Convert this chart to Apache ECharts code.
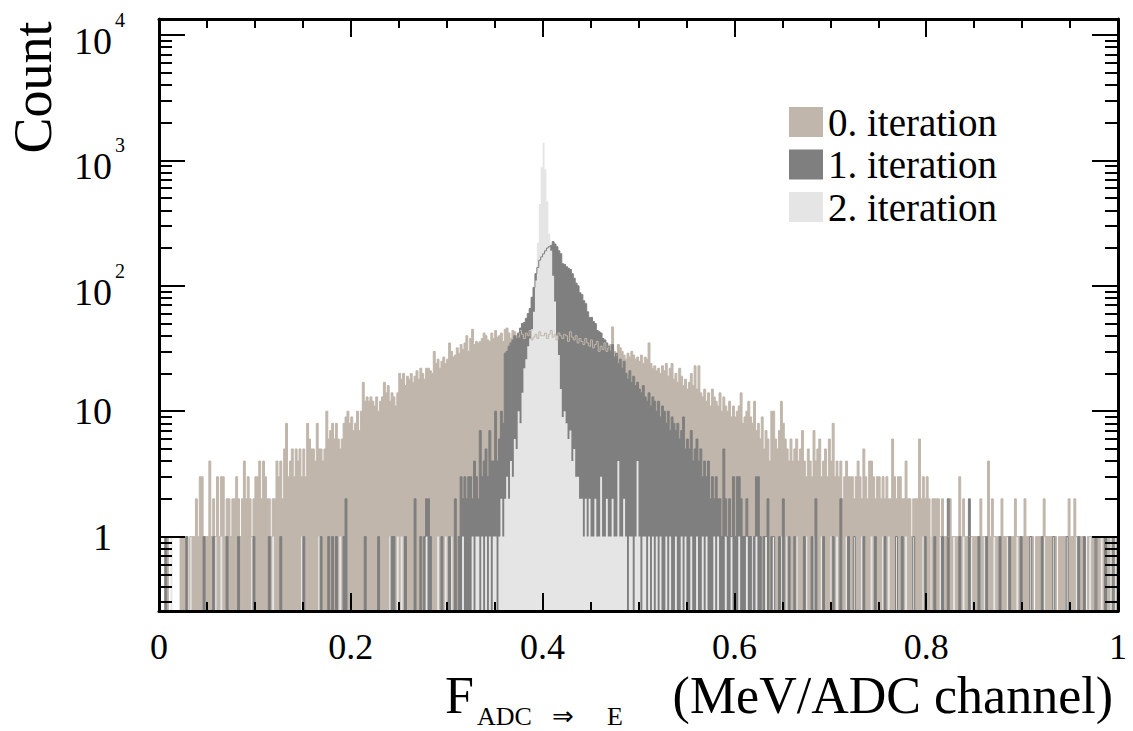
<!DOCTYPE html>
<html>
<head>
<meta charset="utf-8">
<script src="https://cdn.jsdelivr.net/npm/echarts@6/dist/echarts.min.js"></script>
<style>
html,body{margin:0;padding:0;background:#fff;}
#chart{width:1133px;height:731px;}
</style>
</head>
<body>
<div id="chart"></div>
<script>
// ---------------- data ----------------
const seriesNames = ['0. iteration', '1. iteration', '2. iteration'];
const histRange = [0, 1];           // histogram x range (500 equal bins)

const counts0 = [
0,0,0,0,1,0,0,0,0,0, 0,1,1,1,1,0,1,1,1,2, 1,3,3,1,1,1,4,1,2,1, 3,1,3,3,1,2,2,1,2,2,
3,2,1,2,4,2,3,2,1,2, 3,3,4,2,4,3,2,2,1,2, 2,4,3,4,2,5,8,3,4,5, 3,5,4,5,3,5,3,8,6,5,
5,4,8,5,5,4,5,10,6,7, 8,6,8,6,5,6,8,9,10,8, 9,7,8,10,7,10,17,12,13,12, 13,12,11,13,10,12,13,17,14,16,
12,14,13,11,14,20,18,20,16,19, 18,20,17,19,21,18,22,20,18,22, 22,21,20,30,24,26,22,25,27,24, 26,35,30,27,28,32,29,34,31,35,
40,30,38,45,34,36,35,36,38,42, 40,37,36,42,38,44,39,40,42,36, 45,46,42,38,44,43,40,39,44,41, 38,42,40,44,37,39,41,38,43,40,
40,42,38,41,44,39,41,37,42,40, 38,41,40,36,43,39,37,40,35,38, 36,34,38,35,33,37,32,34,36,30, 33,31,35,30,32,34,47,30,28,34,
32,30,28,26,29,27,30,28,26,27, 25,28,24,27,26,35,24,22,23,21, 22,20,23,21,24,19,22,24,18,20, 17,22,19,16,18,15,17,20,16,23,
15,23,14,13,15,12,14,11,15,13, 12,11,14,10,13,11,10,12,9,11, 9,10,11,14,8,9,10,12,9,8, 12,7,8,6,9,5,7,6,4,10,
10,6,5,7,12,8,6,5,4,6, 4,5,6,4,5,7,4,3,5,4, 3,7,4,5,6,3,4,5,3,6, 4,8,3,4,3,4,2,3,4,3,
3,3,2,3,4,3,2,5,3,2, 4,4,3,2,3,3,2,3,2,3, 2,2,6,3,2,3,3,2,2,4, 2,2,1,2,2,2,6,2,3,2,
3,2,0,2,2,2,2,1,2,1, 1,1,2,1,1,1,1,3,1,2, 1,1,1,1,1,1,1,1,2,1, 1,1,4,1,2,1,1,1,1,2,
1,1,1,1,1,1,2,1,1,1, 1,2,1,1,1,1,0,1,1,1, 1,2,1,1,1,1,1,1,0,1, 1,1,1,1,2,1,1,2,1,1,
1,1,0,0,1,1,1,1,0,1, 1,1,1,0,1,1,1,1,0,1
];

const counts1 = [
0,0,0,1,0,0,0,0,0,0, 0,0,0,0,1,0,0,0,0,0, 0,0,0,1,0,0,0,0,1,0, 0,0,0,0,0,1,0,0,0,0,
0,1,0,0,0,0,0,0,0,1, 0,0,0,0,0,0,0,1,0,0, 0,0,0,1,0,0,0,0,0,0, 0,0,0,0,0,1,0,0,0,0,
0,0,0,0,1,0,0,0,1,0, 1,0,1,0,0,0,1,2,0,0, 0,0,0,0,0,0,0,1,0,0, 0,0,0,0,1,0,0,0,0,0,
0,1,1,0,0,0,0,0,1,0, 0,0,0,2,0,0,1,0,1,2, 2,1,0,0,0,0,0,1,0,0, 0,1,0,0,2,0,1,3,2,3,
2,3,3,2,4,3,2,7,3,4, 5,3,7,4,4,10,4,6,10,8, 29,30,33,35,37,40,38,42,46,50, 51,55,60,66,81,97,125,140,160,170,
180,190,200,205,210,225,215,205,190,180, 150,148,142,138,135,125,115,105,100,88, 85,76,72,62,56,56,52,50,44,43, 42,38,37,35,33,30,34,27,29,24,
26,22,25,20,18,21,17,19,16,17, 15,14,16,13,12,14,11,13,12,10, 12,9,11,10,8,10,7,9,8,7, 8,6,7,9,5,6,5,7,4,5,
6,4,5,3,4,3,4,2,3,2, 3,2,2,1,5,2,1,2,1,3, 1,3,3,2,1,1,2,1,1,0, 1,3,3,1,0,1,1,2,0,1,
1,0,0,1,0,2,0,0,1,0, 0,1,0,0,0,0,1,0,0,0, 1,0,2,0,0,0,1,0,0,0, 0,1,0,0,0,2,0,0,0,1,
0,0,1,0,0,0,0,1,0,0, 0,0,0,1,0,0,0,0,1,0, 0,0,0,0,1,0,0,1,0,0, 0,0,0,1,0,0,0,0,0,1,
0,0,0,0,1,0,0,0,1,0, 0,2,0,0,0,0,0,1,0,0, 0,0,2,0,0,0,0,1,0,0, 0,1,0,0,0,0,0,0,1,0,
0,0,0,1,0,0,0,0,0,1, 0,0,0,0,1,0,0,0,0,0, 1,0,0,0,0,0,1,0,0,0, 0,0,0,1,0,0,0,0,0,1,
0,0,1,0,0,0,0,0,1,0, 0,0,0,1,0,0,0,1,0,0
];

const counts2 = [
0,0,0,0,0,0,1,0,0,0, 0,0,0,0,0,0,1,0,0,0, 0,0,0,0,0,0,0,0,0,1, 0,0,1,0,0,0,0,0,0,0,
0,0,0,0,0,0,0,0,1,0, 0,0,0,0,0,0,0,0,0,1, 0,0,0,0,0,0,0,0,0,0, 0,0,0,0,1,0,0,0,0,0,
0,0,0,1,0,0,0,0,0,0, 0,0,0,0,1,0,0,0,0,0, 0,0,0,0,0,0,0,0,0,0, 0,0,0,0,0,0,0,0,0,0,
1,0,0,0,1,0,1,0,0,0, 0,0,0,0,0,0,0,0,0,1, 0,0,0,0,0,1,0,0,0,1, 0,0,1,0,0,0,0,0,1,0,
0,0,0,1,0,1,1,0,1,0, 1,0,1,0,1,1,0,1,2,1, 2,3,2,4,3,6,5,10,8,14, 22,26,33,38,45,62,110,220,450,880,
1380,850,470,260,190,120,75,40,28,15, 9,10,8,6,7,4,5,3,3,2, 2,1,2,1,2,1,1,2,1,1, 3,1,1,2,1,1,2,1,1,4,
1,1,2,1,0,1,1,0,1,4, 1,0,1,1,0,1,0,1,0,1, 0,1,0,0,1,0,1,0,0,1, 0,0,1,0,1,0,0,1,0,0,
1,0,0,1,0,1,0,0,0,1, 0,1,0,0,0,1,0,0,1,0, 0,0,1,0,0,0,1,0,0,1, 0,1,0,0,0,0,1,0,0,0,
1,0,0,0,1,0,0,1,0,0, 0,0,1,0,0,0,0,1,0,0, 0,1,0,0,0,1,0,0,0,0, 1,0,0,1,0,0,0,0,1,0,
0,0,1,0,0,0,1,0,0,0, 0,1,0,0,0,0,0,1,0,0, 1,0,0,0,1,0,0,0,0,1, 0,0,0,1,0,0,0,0,1,0,
0,0,1,0,0,0,0,1,0,0, 0,0,0,0,1,0,0,0,0,1, 0,0,0,1,0,0,0,0,0,0, 1,0,0,0,0,1,0,0,0,0,
0,0,1,0,0,0,0,1,0,0, 0,0,0,0,1,0,0,0,0,0, 0,1,0,0,0,0,1,0,0,0, 0,0,0,1,0,0,0,0,1,0,
0,0,0,0,0,1,0,0,0,0, 0,1,0,0,0,0,1,0,0,0
];

const xTickLabels = ['0', '0.2', '0.4', '0.6', '0.8', '1'];
const yTickValues = [1, 10, 100, 1000, 10000];
const yTickLabels = ['1', '10', '10^2', '10^3', '10^4'];
const yRange = [0.255, 13420];
const yTitle = 'Count';
const xTitleParts = ['F', 'ADC', '\u21D2', 'E', '(MeV/ADC channel)'];

// ---------------- styles ----------------
const COLORS = ['#c0b6ab', '#7f7f7f', '#e5e5e5'];
const FONT = 'Liberation Serif, Times New Roman, serif';

function stepData(counts) {
  const n = counts.length;
  const w = (histRange[1] - histRange[0]) / n;
  const floor = 1e-3; // empty bins: drawn below the axis minimum (clipped)
  const pts = counts.map((c, i) => [histRange[0] + i * w, c > 0 ? c : floor]);
  pts.push([histRange[1], counts[n - 1] > 0 ? counts[n - 1] : floor]);
  return pts;
}

const allCounts = [counts0, counts1, counts2];

const fillSeries = allCounts.map((c, k) => ({
  name: seriesNames[k],
  type: 'line',
  step: 'end',
  data: stepData(c),
  xAxisIndex: 0,
  yAxisIndex: 0,
  symbol: 'none',
  showSymbol: false,
  color: COLORS[k],
  itemStyle: { color: COLORS[k] },
  lineStyle: { width: 0, color: COLORS[k] },
  areaStyle: { color: COLORS[k], opacity: 1, origin: 'start' },
  clip: true,
  silent: true,
  animation: false,
  z: 2 + k
}));

const outlineSeries = [0, 1].map(k => ({
  name: 'outline ' + k,
  type: 'line',
  step: 'end',
  data: stepData(allCounts[k]),
  xAxisIndex: 0,
  yAxisIndex: 0,
  symbol: 'none',
  showSymbol: false,
  lineStyle: { width: 1, color: COLORS[k] },
  clip: true,
  silent: true,
  animation: false,
  z: 6 + k
}));

const yMinorTicks = [];
[0.1, 1, 10, 100, 1000].forEach(d => {
  for (let m = 2; m <= 9; m++) {
    const v = m * d;
    if (v > yRange[0] && v < yRange[1]) yMinorTicks.push(v);
  }
});

const tickLine = { color: '#000', width: 2 };
const axisLine = { show: true, onZero: false, lineStyle: { color: '#000', width: 3 } };

function xAxisDef(pos, showLabels) {
  return {
    type: 'value', min: histRange[0], max: histRange[1], interval: 0.2,
    gridIndex: 0, position: pos, z: 10, silent: true,
    axisLine: axisLine,
    axisTick: { show: true, inside: true, length: 18, lineStyle: tickLine },
    minorTick: { show: true, splitNumber: 4, length: 9, lineStyle: tickLine },
    splitLine: { show: false }, minorSplitLine: { show: false },
    axisLabel: {
      show: showLabels, margin: 20.5, color: '#000', fontFamily: FONT, fontSize: 36, lineHeight: 30,
      showMinLabel: true, showMaxLabel: true,
      formatter: v => xTickLabels[Math.round(v / 0.2)] || ''
    }
  };
}

function yLabelFormatter(v) {
  const lv = Math.log10(v);
  const idx = yTickValues.findIndex(t => Math.abs(Math.log10(t) - lv) < 1e-6);
  if (idx < 0) return '';
  const lab = yTickLabels[idx];
  if (lab.indexOf('^') >= 0) {
    const parts = lab.split('^');
    return '{h| }{m|' + parts[0] + '}{s|' + parts[1] + '}';
  }
  return '{p|' + lab + '}';
}

function yAxisDef(gridIndex, pos, major, showLine) {
  return {
    type: 'log', logBase: 10, min: yRange[0], max: yRange[1],
    gridIndex: gridIndex, position: pos, z: 10, silent: true,
    axisLine: showLine ? axisLine : { show: false },
    axisTick: {
      show: true, inside: true, length: major ? 26 : 13, lineStyle: tickLine,
      customValues: major ? yTickValues : yMinorTicks
    },
    minorTick: { show: false },
    splitLine: { show: false }, minorSplitLine: { show: false },
    axisLabel: (major && pos === 'left') ? {
      show: true, margin: 31, customValues: yTickValues, color: '#000',
      fontFamily: FONT, fontSize: 38,
      formatter: yLabelFormatter,
      rich: {
        p: { fontFamily: FONT, fontSize: 38, lineHeight: 38, color: '#000', padding: [0, 16, 0, 0] },
        m: { fontFamily: FONT, fontSize: 38, lineHeight: 38, color: '#000', verticalAlign: 'bottom' },
        s: { fontFamily: FONT, fontSize: 20, lineHeight: 10, color: '#000', verticalAlign: 'top', padding: [0, 3, 0, 3] },
        h: { fontFamily: FONT, fontSize: 1, lineHeight: 50 }
      }
    } : { show: false }
  };
}

const gridRect = { left: 159, right: 15, top: 19, bottom: 120, containLabel: false, outerBoundsMode: 'none' };

function titleText(text, x, y, size, align, family) {
  return {
    type: 'text', x: x, y: y, silent: true, z: 20,
    style: {
      text: text, fontFamily: family || FONT, fontSize: size, fill: '#000',
      align: align, verticalAlign: 'middle', textAlign: align, textVerticalAlign: 'middle'
    }
  };
}

const option = {
  backgroundColor: '#ffffff',
  animation: false,
  grid: [Object.assign({}, gridRect), Object.assign({}, gridRect)],
  legend: {
    data: seriesNames, orient: 'vertical', left: 789, top: 102.5, padding: 0,
    itemWidth: 34, itemHeight: 30, itemGap: 3.5, icon: 'rect', selectedMode: false,
    textStyle: { fontFamily: FONT, fontSize: 39, color: '#000' },
    itemStyle: { borderWidth: 0 }
  },
  xAxis: [
    xAxisDef('bottom', true),
    xAxisDef('top', false),
    { type: 'value', gridIndex: 1, min: histRange[0], max: histRange[1], show: false }
  ],
  yAxis: [
    yAxisDef(0, 'left', true, true),
    yAxisDef(0, 'right', true, true),
    yAxisDef(1, 'left', false, false),
    yAxisDef(1, 'right', false, false)
  ],
  series: fillSeries.concat(outlineSeries),
  graphic: [
    {
      type: 'text', x: 33, y: 87.5, rotation: Math.PI / 2, silent: true,
      style: { text: yTitle, fontFamily: FONT, fontSize: 54, fill: '#000',
               align: 'center', verticalAlign: 'middle', textAlign: 'center', textVerticalAlign: 'middle' }
    },
    // x title: F_{ADC => E} (MeV/ADC channel); main baseline ~713, subscript baseline ~725
    titleText(xTitleParts[0], 445, 695.5, 52, 'left'),
    titleText(xTitleParts[1], 477, 716.2, 26, 'left'),
    titleText(xTitleParts[2], 552, 716.0, 26, 'left', 'DejaVu Sans, sans-serif'),
    titleText(xTitleParts[3], 607, 716.2, 26, 'left'),
    titleText(xTitleParts[4], 1113, 695.5, 52, 'right')
  ]
};

const chart = echarts.init(document.getElementById('chart'), null, { renderer: 'svg', width: 1133, height: 731 });
chart.setOption(option);
</script>
</body>
</html>
